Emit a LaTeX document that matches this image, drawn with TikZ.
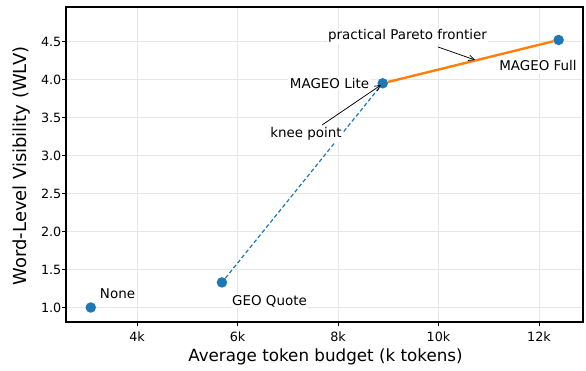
\documentclass[tikz,border=0pt]{standalone}
\usepackage{fontspec}
\setmainfont{DejaVu Sans}
\usetikzlibrary{arrows.meta}
\definecolor{tabblue}{HTML}{1F77B4}
\definecolor{taborange}{HTML}{FF7F0E}
\definecolor{gridgray}{HTML}{E6E6E6}
\tikzset{
  datapt/.style={circle,fill=tabblue,inner sep=0pt,minimum size=10.5bp},
  lbl/.style={fill=white,inner sep=1.5bp,font=\fontsize{13.5}{16}\selectfont},
  ticklbl/.style={inner sep=0pt,font=\fontsize{12.8}{15}\selectfont},
  axlbl/.style={inner sep=0pt,font=\fontsize{16.8}{20}\selectfont},
  annarrow/.style={-{Straight Barb[length=5.5bp,width=5.5bp]},line width=0.75bp},
  gridline/.style={draw=gridgray,line width=0.8bp},
  tickmark/.style={line width=0.8bp},
}
\begin{document}
\begin{tikzpicture}[x=1bp,y=1bp]
\useasboundingbox (0,0) rectangle (586,370);
\begin{scope}[shift={(-64bp,-13.5bp)},x=50.25bp,y=76bp]
  % grid
  \foreach \k in {4,6,8,10,12} \draw[gridline] (\k,0.809) -- (\k,4.954);
  \foreach \v in {1.0,1.5,2.0,2.5,3.0,3.5,4.0,4.5} \draw[gridline] (2.587,\v) -- (12.876,\v);
  % ticks
  \foreach \k in {4,6,8,10,12} {
    \draw[tickmark] (\k,0.809) -- ++(0,-3.5bp);
    \node[ticklbl] (xt\k) at (\k,0.612) {\k k};
  }
  \foreach \v/\t in {1.0/1.0,1.5/1.5,2.0/2.0,2.5/2.5,3.0/3.0,3.5/3.5,4.0/4.0,4.5/4.5} {
    \draw[tickmark] (2.587,\v) -- ++(-3.5bp,0);
    \node[ticklbl,anchor=east] (yt\t) at (2.498,\v) {\t};
  }
  % data points
  \node[datapt] (none) at (3.08,1.0) {};
  \node[datapt] (geo) at (5.69,1.33) {};
  \node[datapt] (lite) at (8.89,3.95) {};
  \node[datapt] (full) at (12.39,4.52) {};
  % lines
  \draw[tabblue,dashed,dash pattern=on 4bp off 2.5bp,line width=1.2bp] (geo) -- (lite);
  \draw[taborange,line width=2.4bp] (lite) -- (full);
  % labels
  \node[lbl] (noneL) at (3.612,1.178) {None};
  \node[lbl] (geoL) at (6.637,1.086) {GEO Quote};
  \node[lbl] (liteL) at (7.831,3.954) {MAGEO Lite};
  \node[lbl] (kneeL) at (7.363,3.283) {knee point};
  \node[lbl] (paretoL) at (9.383,4.572) {practical Pareto frontier};
  \node[lbl] (fullL) at (11.980,4.178) {MAGEO Full};
  % arrows
  \coordinate (kneeS) at (7.682,3.401);
  \coordinate (kneeE) at (8.856,3.928);
  \coordinate (parS) at (9.990,4.428);
  \coordinate (parE) at (10.726,4.257);
  \draw[annarrow] (kneeS) -- (kneeE);
  \draw[annarrow] (parS) -- (parE);
\end{scope}
% frame
\draw[line width=1.9bp] (66,48) rectangle (583,363);
% axis labels
\node[axlbl] (xlab) at (325.5,13) {Average token budget (k tokens)};
\node[axlbl,rotate=90,font=\fontsize{18}{21}\selectfont] (ylab) at (22,204) {Word-Level Visibility (WLV)};
\end{tikzpicture}
\end{document}
